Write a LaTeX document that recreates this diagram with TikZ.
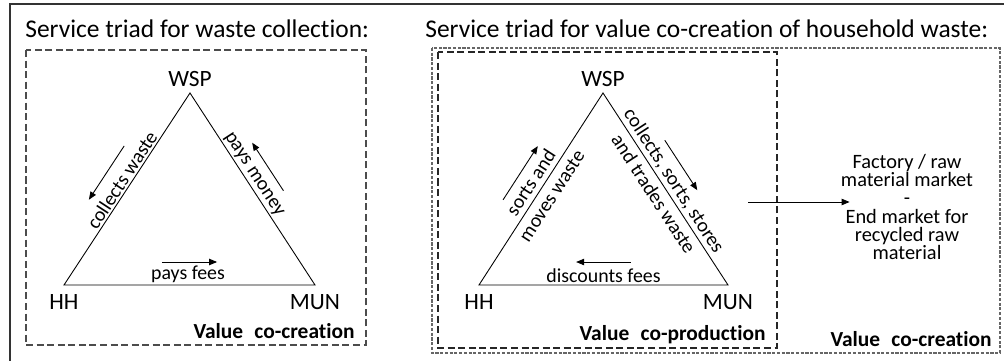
\documentclass[tikz,border=0pt]{standalone}
\usepackage{fontspec}
\setmainfont{Carlito}[Ligatures=NoCommon]
\usetikzlibrary{positioning}
\usetikzlibrary{calc}
\usetikzlibrary{arrows.meta}
\tikzset{>={Triangle[length=4.5pt,width=3.6pt]}}
\tikzset{ed/.style={font=\fontsize{11.3}{14}\selectfont, inner sep=1pt}}
\tikzset{actor/.style={font=\fontsize{13.3}{15}\selectfont, inner sep=0pt}}
\tikzset{ttl/.style={font=\fontsize{14.5}{17}\selectfont, anchor=base west, inner sep=0pt}}
\tikzset{boxlbl/.style={font=\fontsize{12.2}{14}\selectfont\bfseries, anchor=base east, inner sep=0pt}}
\tikzset{mkt/.style={font=\fontsize{11.6}{10.4}\selectfont, align=center, inner sep=0pt}}
\tikzset{frame/.style={draw=black!70, dash pattern=on 4pt off 2pt, line width=0.6pt}}
\tikzset{outframe/.style={draw=black!60, dash pattern=on 1.8pt off 0.9pt, line width=0.6pt}}
\tikzset{side/.style={line width=0.5pt}}
\tikzset{flow/.style={->, line width=0.5pt}}

\begin{document}
\begin{tikzpicture}[x=0.02cm, y=-0.02cm]
        \useasboundingbox (0,0) rectangle (1004,361);
        \draw[line width=0.8pt, black!80] (10,361) -- (10,4) -- (1004,4);

        % left panel
        \node[ttl] (ttlA) at (25,38) {Service triad for waste collection:};
        \draw[frame] (26,50) rectangle (366,345);

        \coordinate (wspA) at (190,93);
        \coordinate (hhA) at (64,285);
        \coordinate (munA) at (315,285);
        \node[actor, above=1.1mm of wspA] (wspAl) {WSP};
        \node[actor, below=1.9mm of hhA] (hhAl) {HH};
        \node[actor, below=1.9mm of munA] (munAl) {MUN};

        \draw[side] (munA) -- node[ed, above, pos=0.506] {pays fees} (hhA)
         -- node[ed, sloped, above, pos=0.52] {collects waste} (wspA)
         -- node[ed, sloped, above, pos=0.45] {pays money} cycle;

        \draw[flow] ($(hhA)!0.65!(wspA)!0.52cm!90:(wspA)$) -- ($(hhA)!0.37!(wspA)!0.52cm!90:(wspA)$);
        \draw[flow] ($(wspA)!0.58!(munA)!0.5cm!90:(munA)$) -- ($(wspA)!0.33!(munA)!0.5cm!90:(munA)$);
        \draw[flow] ($(hhA)!0.39!(munA)!0.46cm!90:(munA)$) -- ($(hhA)!0.61!(munA)!0.46cm!90:(munA)$);

        \node[boxlbl] (vccA) at (355,338) {Value\hspace{0.3em} co-creation};

        % right panel
        \node[ttl] (ttlB) at (425,38) {Service triad for value co-creation of household waste:};
        \draw[outframe] (432,48) rectangle (1000,353);
        \draw[frame, draw=black!85] (438,52) rectangle (777,348);

        \coordinate (wspB) at (603,93);
        \coordinate (hhB) at (479,285);
        \coordinate (munB) at (728,285);
        \node[actor, above=1.1mm of wspB] (wspBl) {WSP};
        \node[actor, below=1.9mm of hhB] (hhBl) {HH};
        \node[actor, below=1.9mm of munB] (munBl) {MUN};

        \draw[side] (munB) -- node[ed, above, pos=0.5] {discounts fees} (hhB)
         -- node[ed, sloped, align=center, pos=0.5] {sorts and\\moves waste} (wspB)
         -- node[ed, sloped, align=center, pos=0.49] {collects, sorts, stores\\and trades waste} cycle;

        \draw[flow] ($(hhB)!0.37!(wspB)!0.52cm!90:(wspB)$) -- ($(hhB)!0.65!(wspB)!0.52cm!90:(wspB)$);
        \draw[flow] ($(wspB)!0.32!(munB)!0.52cm!90:(munB)$) -- ($(wspB)!0.58!(munB)!0.52cm!90:(munB)$);
        \draw[flow] ($(hhB)!0.61!(munB)!0.46cm!90:(munB)$) -- ($(hhB)!0.39!(munB)!0.46cm!90:(munB)$);

        \node[mkt] (market) at (907,207) {Factory / raw\\material market\\-\\End market for\\recycled raw\\material};
        \coordinate (outB) at (748,202);
        \draw[flow] (outB) -- ($(outB -| market.west)+(9,0)$);

        \node[boxlbl] (vcpB) at (766,340) {Value\hspace{0.3em} co-production};
        \node[boxlbl] (vccB) at (992,346) {Value\hspace{0.3em} co-creation};
\end{tikzpicture}
\end{document}
